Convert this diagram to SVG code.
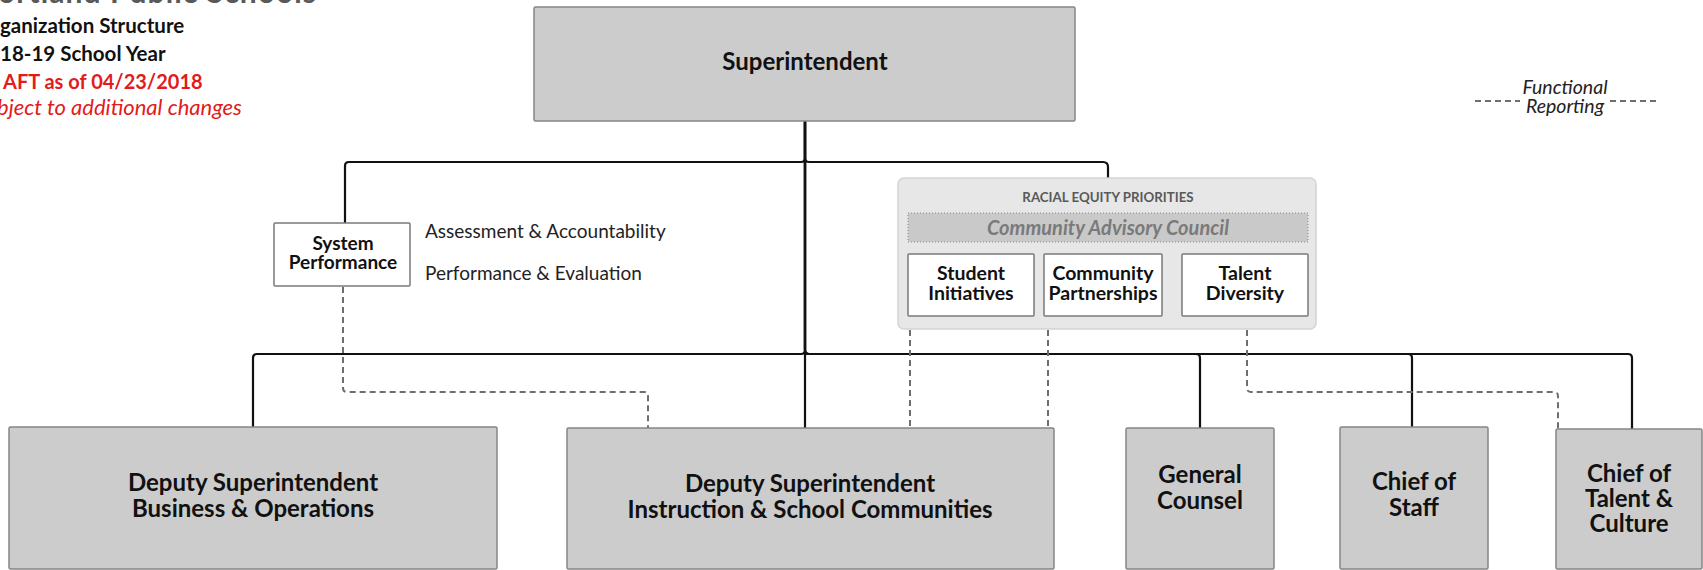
<svg xmlns="http://www.w3.org/2000/svg" width="1703" height="570" viewBox="0 0 1703 570">
<style>
.box{fill:#cccccc;stroke:#858585;stroke-width:1.5}
.wbox{fill:#ffffff;stroke:#7a7a7a;stroke-width:1.5}
.t{font-family:Lato,"Liberation Sans",sans-serif;font-weight:bold;fill:#111;text-anchor:middle}
.big{font-size:24px}
.mid{font-size:19.5px}
.side{font-family:Lato,"Liberation Sans",sans-serif;font-size:19px;fill:#222}
.hdr{font-family:Lato,"Liberation Sans",sans-serif;font-weight:bold;font-size:20.5px;fill:#111}
.red{fill:#e21b1b}
.conn{fill:none;stroke:#111;stroke-width:2.2}
.dash{fill:none;stroke:#6e6e6e;stroke-width:2;stroke-dasharray:6 4}
</style>
<rect width="1703" height="570" fill="#ffffff"/>
<g id="header">
<text x="-2" y="3" font-family="Lato,'Liberation Sans',sans-serif" font-size="30" font-weight="bold" fill="#595959" textLength="318">ortland Public Schools</text>
<text class="hdr" x="0" y="33">ganization Structure</text>
<text class="hdr" x="0" y="61">18-19 School Year</text>
<text class="hdr red" x="3" y="89" style="font-size:20px">AFT as of 04/23/2018</text>
<text class="side red" x="-3" y="115" font-style="italic" style="font-size:22px">bject to additional changes</text>
</g>
<g id="legend">
<path class="dash" d="M1475,101 H1520 M1610,101 H1658"/>
<text class="side" x="1565" y="94" text-anchor="middle" font-style="italic" style="font-size:19.5px">Functional</text>
<text class="side" x="1565" y="113" text-anchor="middle" font-style="italic" style="font-size:19.5px">Reporting</text>
</g>
<g id="connectors">
<path class="conn" d="M805,121 V158 Q805,162 801,162 H349 Q345,162 345,166 V223"/>
<path class="conn" d="M805,121 V158 Q805,162 809,162 H1103 Q1108,162 1108,167 V178"/>
<path class="conn" d="M805,121 V350 Q805,354 801,354 H257 Q253,354 253,358 V427"/>
<path class="conn" d="M805,121 V428"/>
<path class="conn" d="M805,121 V350 Q805,354 809,354 H1196 Q1200,354 1200,358 V428"/>
<path class="conn" d="M805,121 V350 Q805,354 809,354 H1408 Q1412,354 1412,358 V427"/>
<path class="conn" d="M805,121 V350 Q805,354 809,354 H1628 Q1632,354 1632,358 V429"/>
<path class="dash" d="M343,287 V388 Q343,392 347,392 H644 Q648,392 648,396 V428"/>
<path class="dash" d="M910,330 V428"/>
<path class="dash" d="M1048,330 V428"/>
<path class="dash" d="M1247,330 V388 Q1247,392 1251,392 H1554 Q1558,392 1558,396 V429"/>
</g>
<g id="superintendent">
<rect class="box" x="534" y="7" width="541" height="114" rx="1.5"/>
<text class="t big" x="805" y="70">Superintendent</text>
</g>
<g id="system-performance">
<rect class="wbox" x="274" y="223" width="136" height="63" rx="1"/>
<text class="t" x="343" y="250" style="font-size:19px">System</text>
<text class="t" x="343" y="269" style="font-size:19px">Performance</text>
<text class="side" x="425" y="238">Assessment &amp; Accountability</text>
<text class="side" x="425" y="280">Performance &amp; Evaluation</text>
</g>
<g id="racial-equity">
<rect x="898" y="178" width="418" height="151" rx="6" fill="#e7e7e7" stroke="#d3d3d3" stroke-width="1.5"/>
<text class="t" x="1108" y="202" style="font-size:13.3px;fill:#595959">RACIAL EQUITY PRIORITIES</text>
<g id="community-advisory-council">
<rect x="908" y="213" width="400" height="29" fill="#c9c9c9" stroke="#8a8a8a" stroke-width="1" stroke-dasharray="1 2"/>
<text class="t" x="1108" y="235" font-style="italic" style="font-size:20px;fill:#7a7a7a">Community Advisory Council</text>
</g>
<g id="student-initiatives">
<rect class="wbox" x="908" y="254" width="126" height="62" rx="1"/>
<text class="t mid" x="971" y="280">Student</text>
<text class="t mid" x="971" y="300">Initiatives</text>
</g>
<g id="community-partnerships">
<rect class="wbox" x="1044" y="254" width="118" height="62" rx="1"/>
<text class="t mid" x="1103" y="280">Community</text>
<text class="t mid" x="1103" y="300">Partnerships</text>
</g>
<g id="talent-diversity">
<rect class="wbox" x="1182" y="254" width="126" height="62" rx="1"/>
<text class="t mid" x="1245" y="280">Talent</text>
<text class="t mid" x="1245" y="300">Diversity</text>
</g>
</g>
<g id="deputy-business">
<rect class="box" x="9" y="427" width="488" height="142" rx="1.5"/>
<text class="t big" x="253" y="491">Deputy Superintendent</text>
<text class="t big" x="253" y="517">Business &amp; Operations</text>
</g>
<g id="deputy-instruction">
<rect class="box" x="567" y="428" width="487" height="141" rx="1.5"/>
<text class="t big" x="810" y="492">Deputy Superintendent</text>
<text class="t big" x="810" y="518">Instruction &amp; School Communities</text>
</g>
<g id="general-counsel">
<rect class="box" x="1126" y="428" width="148" height="141" rx="1.5"/>
<text class="t big" x="1200" y="483">General</text>
<text class="t big" x="1200" y="509">Counsel</text>
</g>
<g id="chief-of-staff">
<rect class="box" x="1340" y="427" width="148" height="142" rx="1.5"/>
<text class="t big" x="1414" y="490">Chief of</text>
<text class="t big" x="1414" y="516">Staff</text>
</g>
<g id="chief-talent-culture">
<rect class="box" x="1556" y="429" width="146" height="140" rx="1.5"/>
<text class="t big" x="1629" y="482">Chief of</text>
<text class="t big" x="1629" y="507">Talent &amp;</text>
<text class="t big" x="1629" y="532">Culture</text>
</g>
</svg>
